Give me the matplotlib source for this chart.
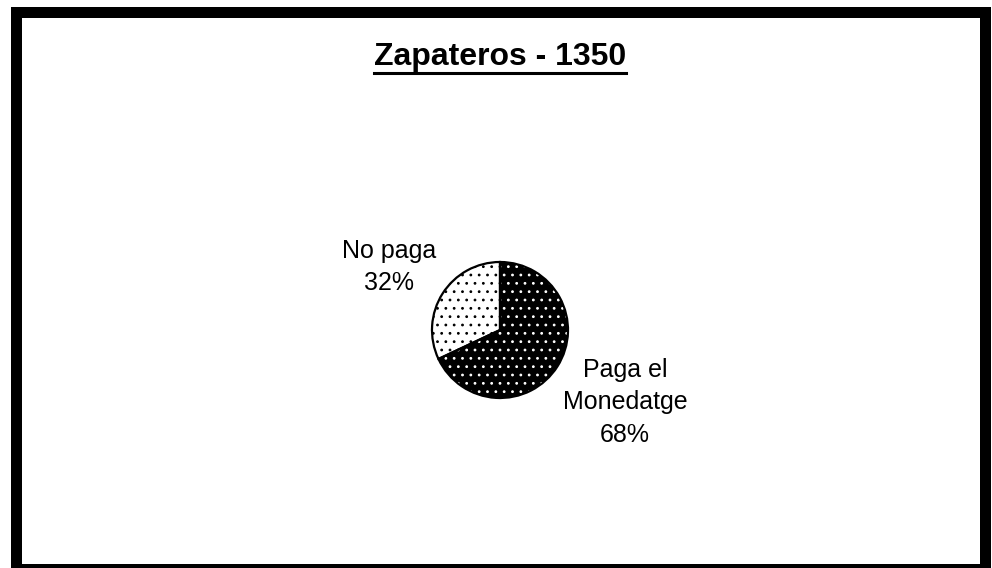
import numpy as np
import matplotlib
matplotlib.use("Agg")
import matplotlib.pyplot as plt
from matplotlib.patches import Rectangle
from matplotlib.lines import Line2D

# data
labels = ["No paga", "Paga el\nMonedatge"]
values = [32, 68]
colors = ["white", "black"]
dot_colors = ["black", "white"]
title = "Zapateros - 1350"

# label placement: (extra angle in degrees, distance in radii)
label_place = [(2.8, 1.87), (2.3, 2.125)]

plt.rcParams['font.family'] = ['Liberation Sans', 'DejaVu Sans']
plt.rcParams['hatch.linewidth'] = 0.8

W, H = 992, 568
fig = plt.figure(figsize=(W / 100, H / 100), dpi=100)
fig.patch.set_facecolor("white")

# pie axes: center at (500, 330) px from top-left, radius 68 px
r_px = 68.0
half = 200.0
cx, cy = 500.0, H - 330.0
ax = fig.add_axes([(cx - half) / W, (cy - half) / H, 2 * half / W, 2 * half / H])

# fill + dotted hatch (hatch follows edge colour)
wedges, _ = ax.pie(values, colors=colors, startangle=90, counterclock=True,
                   wedgeprops=dict(linewidth=0, hatch=".."))
for w, dc in zip(wedges, dot_colors):
    w.set_edgecolor(dc)

# black outlines
outline, _ = ax.pie(values, startangle=90, counterclock=True,
                    wedgeprops=dict(fill=False, edgecolor="black", linewidth=1.6))

ax.set_xlim(-half / r_px, half / r_px)
ax.set_ylim(-half / r_px, half / r_px)
ax.set_aspect("equal")
ax.axis("off")

# labels with percentages
total = sum(values)
for w, lab, v, (da, d) in zip(wedges, labels, values, label_place):
    ang = np.deg2rad((w.theta1 + w.theta2) / 2 + da)
    ax.text(d * np.cos(ang), d * np.sin(ang), f"{lab}\n{round(100 * v / total)}%",
            ha="center", va="center", fontsize=18, linespacing=1.45)

# title with underline
t = fig.text(0.504, 1 - 65 / H, title, ha="center", va="baseline",
             fontsize=23, fontweight="bold")
fig.canvas.draw()
bb = t.get_window_extent()
uy = (H - 73) / H
fig.add_artist(Line2D([bb.x0 / W, bb.x1 / W], [uy, uy], color="black",
                      linewidth=2.2, transform=fig.transFigure))

# thick black frame (cut at right/bottom)
x0, x1 = 15.5 / W, 984.5 / W
y0, y1 = -0.5 / H, (H - 11.5) / H
fig.add_artist(Rectangle((x0, y0), x1 - x0, y1 - y0, fill=False,
                         edgecolor="black", linewidth=11 * 0.72,
                         transform=fig.transFigure, clip_on=False))

fig.savefig("out.png", dpi=100, facecolor="white")
